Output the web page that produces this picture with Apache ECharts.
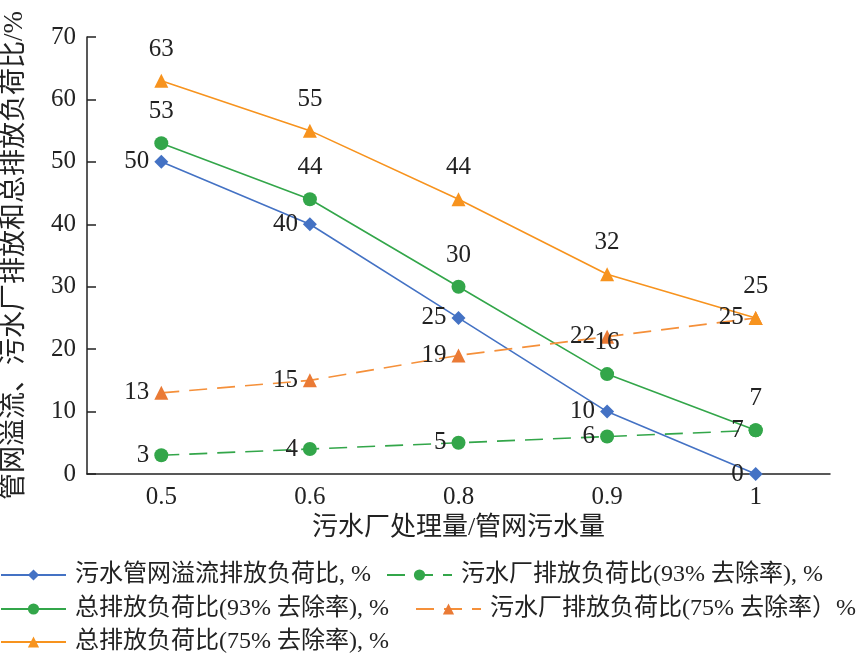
<!DOCTYPE html>
<html><head><meta charset="utf-8">
<script src="https://cdn.jsdelivr.net/npm/echarts@6/dist/echarts.min.js"></script>
<style>html,body{margin:0;padding:0;background:#fff}#c{width:865px;height:659px}</style>
</head><body><div id="c"></div>
<script>
const categories = ['0.5', '0.6', '0.8', '0.9', '1'];
const seriesNames = [
  '污水管网溢流排放负荷比, %',
  '污水厂排放负荷比(93% 去除率), %',
  '总排放负荷比(93% 去除率), %',
  '污水厂排放负荷比(75% 去除率）%',
  '总排放负荷比(75% 去除率), %'
];
const overflowLoad = [50, 40, 25, 10, 0];
const plant93 = [3, 4, 5, 6, 7];
const total93 = [53, 44, 30, 16, 7];
const plant75 = [13, 15, 19, 22, 25];
const total75 = [63, 55, 44, 32, 25];
const yTicks = {min: 0, max: 70, interval: 10};

const FONT = "'Liberation Serif', 'Noto Sans CJK SC', serif";
const lblLeft = {show: true, position: 'left', distance: 5, fontSize: 25, fontFamily: FONT, color: '#222'};
const lblTop = {show: true, position: 'top', distance: 12, fontSize: 25, fontFamily: FONT, color: '#222'};

function mk(name, data, color, symbol, dashed, label, lineColor) {
  return {
    name, type: 'line', data, symbol, symbolSize: 14,
    itemStyle: {color},
    lineStyle: {color: lineColor || color, width: 1.6, type: dashed ? [18, 10] : 'solid'},
    label, animation: false
  };
}

const legendPos = [
  {left: 0, top: 563}, {left: 386, top: 563},
  {left: 0, top: 597}, {left: 415, top: 597},
  {left: 0, top: 630}
];

const chart = echarts.init(document.getElementById('c'));
chart.setOption({
  backgroundColor: '#fff',
  animation: false,
  grid: {left: 87, right: 35, top: 37, bottom: 185, containLabel: false, outerBoundsMode: 'none'},
  legend: legendPos.map((p, i) => ({
    data: [seriesNames[i]], left: p.left, top: p.top, padding: 0,
    itemWidth: 65, itemHeight: 14, itemGap: 0,
    textStyle: {fontSize: 24, fontFamily: FONT, color: '#222', padding: [0, 0, 0, 4]}
  })),
  xAxis: {
    type: 'category', data: categories, boundaryGap: true,
    name: '污水厂处理量/管网污水量', nameLocation: 'middle', nameGap: 40,
    nameTextStyle: {fontSize: 26, fontFamily: FONT, color: '#222'},
    axisLine: {lineStyle: {color: '#222', width: 1.5}},
    axisTick: {inside: true, length: 9, lineStyle: {color: '#222', width: 1.5}},
    axisLabel: {fontSize: 25, fontFamily: FONT, color: '#222', margin: 11}
  },
  yAxis: {
    type: 'value', min: yTicks.min, max: yTicks.max, interval: yTicks.interval,
    name: '管网溢流、污水厂排放和总排放负荷比/%', nameLocation: 'middle', nameGap: 59,
    nameTextStyle: {fontSize: 27, fontFamily: FONT, color: '#222'},
    axisLine: {show: true, lineStyle: {color: '#222', width: 1.5}},
    axisTick: {show: true, inside: true, length: 9, lineStyle: {color: '#222', width: 1.5}},
    axisLabel: {fontSize: 25, fontFamily: FONT, color: '#222', margin: 11},
    splitLine: {show: false}
  },
  series: [
    mk(seriesNames[0], overflowLoad, '#4472C4', 'diamond', false, lblLeft),
    mk(seriesNames[1], plant93, '#33A64A', 'circle', true, lblLeft),
    mk(seriesNames[2], total93, '#33A64A', 'circle', false, lblTop),
    mk(seriesNames[3], plant75, '#EA7A35', 'triangle', true, lblLeft, '#F5903A'),
    mk(seriesNames[4], total75, '#F7931E', 'triangle', false, lblTop)
  ]
});
</script></body></html>
